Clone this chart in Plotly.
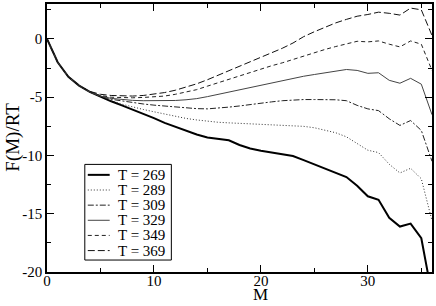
import plotly.graph_objects as go

M = list(range(0, 37))

F_269 = [0, -2.0, -3.25, -4.0, -4.55, -4.97, -5.35, -5.7, -6.05, -6.4, -6.8, -7.2, -7.55, -7.85,
         -8.2, -8.45, -8.6, -8.7, -9.1, -9.4, -9.6, -9.75, -9.85, -10.05, -10.4, -10.75, -11.1,
         -11.45, -11.85, -12.6, -13.5, -13.8, -15.35, -16.1, -15.85, -17.1, -22.0]
F_289 = [0, -2.0, -3.25, -4.0, -4.55, -4.93, -5.3, -5.6, -5.85, -6.05, -6.25, -6.45, -6.65, -6.82,
         -6.95, -7.07, -7.15, -7.2, -7.25, -7.3, -7.35, -7.38, -7.4, -7.45, -7.5, -7.62, -7.84,
         -8.05, -8.4, -9.0, -9.55, -9.75, -10.75, -11.5, -11.1, -12.0, -15.6]
F_309 = [0, -2.0, -3.25, -4.0, -4.55, -4.92, -5.18, -5.33, -5.47, -5.58, -5.68, -5.77, -5.85, -5.92,
         -5.98, -6.0, -5.95, -5.85, -5.75, -5.62, -5.5, -5.4, -5.3, -5.22, -5.2, -5.2, -5.2,
         -5.22, -5.3, -5.7, -6.0, -6.15, -6.85, -7.42, -7.0, -7.85, -10.5]
F_329 = [0, -2.0, -3.25, -4.0, -4.55, -4.9, -5.1, -5.2, -5.27, -5.3, -5.3, -5.3, -5.28, -5.22,
         -5.12, -4.95, -4.75, -4.55, -4.35, -4.15, -4.0, -3.8, -3.57, -3.37, -3.2, -3.05, -2.9,
         -2.75, -2.62, -2.7, -2.95, -2.9, -3.55, -3.8, -3.38, -3.88, -6.5]
F_349 = [0, -2.0, -3.25, -4.0, -4.55, -4.85, -5.0, -5.05, -5.05, -5.02, -4.97, -4.9, -4.75, -4.55,
         -4.35, -4.05, -3.75, -3.45, -3.15, -2.85, -2.6, -2.3, -2.05, -1.75, -1.45, -1.15, -0.9,
         -0.65, -0.42, -0.2, -0.25, -0.17, -0.45, -0.68, -0.17, -0.45, -2.7]
F_369 = [0, -2.0, -3.25, -4.0, -4.5, -4.75, -4.85, -4.9, -4.9, -4.85, -4.75, -4.6, -4.4, -4.15,
         -3.85, -3.5, -3.12, -2.75, -2.38, -2.0, -1.62, -1.22, -0.8, -0.35, 0.2, 0.62, 1.02,
         1.38, 1.68, 1.95, 2.1, 2.3, 2.2, 2.05, 2.65, 2.5, 0.3]

labels = ["T = 269", "T = 289", "T = 309", "T = 329", "T = 349", "T = 369"]
values = [F_269, F_289, F_309, F_329, F_349, F_369]
dashes = ["solid", "1px,2px", "6px,2px,2px,2px", "solid", "4px,3px", "7px,3px"]
widths = [2.0, 1.0, 1.0, 1.0, 1.0, 1.0]
colors = ["black", "#333333", "#222222", "#444444", "#222222", "#111111"]

x_tickvals = [0, 10, 20, 30]
x_ticktext = ["0", "10", "20", "30"]
y_tickvals = [0, -5, -10, -15, -20]
y_ticktext = ["0", "-5", "-10", "-15", "-20"]

W, H = 436, 306
ML, MR, MT, MB = 47, 2, 3, 34
PW, PH = W - ML - MR, H - MT - MB


def px_x(p):
    return (p - ML) / PW


def px_y(p):
    return (H - MB - p) / PH


fig = go.Figure()
for name, vals, dash, w, col in zip(labels, values, dashes, widths, colors):
    fig.add_trace(go.Scatter(x=M, y=vals, mode="lines", name=name, showlegend=False,
                             line=dict(color=col, width=w, dash=dash)))

font = "Liberation Serif, Times New Roman, serif"
axis_common = dict(showgrid=False, zeroline=False, showline=True, linecolor="black",
                   linewidth=1.5, mirror="allticks", ticks="inside", ticklen=7,
                   tickcolor="black", tickwidth=1,
                   tickfont=dict(family=font, size=15, color="black"))

shapes = []
annotations = []

# legend box
shapes.append(dict(type="rect", xref="paper", yref="paper",
                   x0=px_x(85), x1=px_x(172), y0=px_y(260), y1=px_y(164),
                   line=dict(color="black", width=1), fillcolor="white", layer="above"))
for i, (name, dash, w, col) in enumerate(zip(labels, dashes, widths, colors)):
    yc = 174.5 + 15.2 * i
    shapes.append(dict(type="line", xref="paper", yref="paper",
                       x0=px_x(88), x1=px_x(110), y0=px_y(yc), y1=px_y(yc),
                       line=dict(color=col, width=w, dash=dash), layer="above"))
    annotations.append(dict(xref="paper", yref="paper", x=px_x(116), y=px_y(yc),
                            xanchor="left", yanchor="middle", showarrow=False,
                            text=name, font=dict(family=font, size=15, color="black")))

# axis titles
annotations.append(dict(xref="paper", yref="paper", x=px_x(262), y=px_y(306),
                        xanchor="center", yanchor="bottom", showarrow=False,
                        text="M", font=dict(family=font, size=17, color="black")))
annotations.append(dict(xref="paper", yref="paper", x=px_x(12), y=px_y(137),
                        xanchor="center", yanchor="middle", showarrow=False, textangle=-90,
                        text="F(M)/RT", font=dict(family=font, size=19, color="black")))

fig.update_layout(
    width=W, height=H,
    margin=dict(l=ML, r=MR, t=MT, b=MB),
    paper_bgcolor="white", plot_bgcolor="white",
    font=dict(family=font, color="black"),
    xaxis=dict(range=[0, 36], tickvals=x_tickvals, ticktext=x_ticktext,
               ticklabelstandoff=-6,
               minor=dict(dtick=5, tick0=0, ticks="inside", ticklen=4, tickcolor="black"),
               **axis_common),
    yaxis=dict(range=[-20, 3], tickvals=y_tickvals, ticktext=y_ticktext,
               minor=dict(dtick=2.5, tick0=0, ticks="inside", ticklen=4, tickcolor="black"),
               **axis_common),
    shapes=shapes,
    annotations=annotations,
    showlegend=False,
)

fig.write_html("out.html", config={"displayModeBar": False},
               post_script="document.body.style.margin='0';document.body.style.padding='0';")
